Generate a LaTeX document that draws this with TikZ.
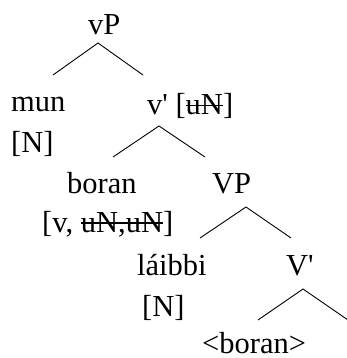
\documentclass[tikz,border=0pt]{standalone}
\usepackage{fontspec}
\setmainfont{Liberation Serif}
\newfontfamily\treefont{Liberation Serif}
\usepackage{tikz}
\newcommand{\struck}[1]{\setbox0=\hbox{#1}\rlap{#1}\rule[8.5pt]{\wd0}{1.1pt}}
\tikzset{
  word/.style   = {inner sep=0pt, anchor=base west,
                   font=\treefont\fontsize{30.5}{37}\selectfont},
  branch/.style = {draw, line width=0.9pt}
}

\begin{document}
\begin{tikzpicture}
  [
    x = 1pt,
    y = -1pt
  ]
  \useasboundingbox (0,0) rectangle (347,358);

  \node [word] (vP)     at (88,35)   {vP};
  \node [word] (mun)    at (11,112)  {mun};
  \node [word] (munF)   at (11,153)  {[N]};
  \node [word] (vbar)   at (147,115) {v\textquotesingle{} [\struck{uN}]};
  \node [word] (boran)  at (67,193)  {boran};
  \node [word] (boranF) at (42,232)  {[v, \struck{uN,uN}]};
  \node [word] (VP)     at (212,193) {VP};
  \node [word] (laibbi) at (137,275) {láibbi};
  \node [word] (laibF)  at (142,316) {[N]};
  \node [word] (Vbar)   at (286,275) {V\textquotesingle};
  \node [word] (trace)  at (202,353) {<boran>};

  % branch points
  \coordinate (vP-top)   at (98,43);
  \coordinate (vbar-top) at (159,126);
  \coordinate (VP-top)   at (246,207);
  \coordinate (Vbar-top) at (303,289);

  \draw [branch] (vP-top) ++(-45,32) -- (vP-top) -- ++(45,32);
  \draw [branch] (vbar-top) ++(-46,31) -- (vbar-top) -- ++(46,31);
  \draw [branch] (VP-top) ++(-46,31) -- (VP-top) -- ++(45,31);
  \draw [branch] (Vbar-top) ++(-45,31) -- (Vbar-top) -- ++(45,31);
\end{tikzpicture}
\end{document}
